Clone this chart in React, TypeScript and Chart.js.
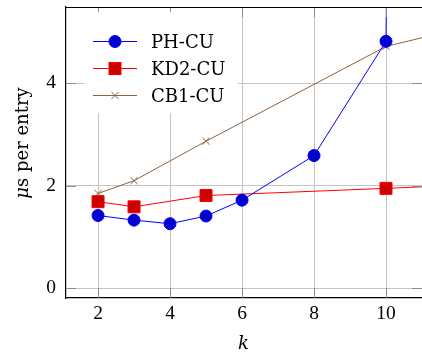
import { useEffect, useRef } from "react";
import { Chart, registerables } from "chart.js";

Chart.register(...registerables);

// ---- data ----
const phK = [2, 3, 4, 5, 6, 8, 10, 12];
const phValues = [1.42, 1.33, 1.26, 1.41, 1.72, 2.59, 4.82, 150];
const kd2K = [2, 3, 5, 10, 12];
const kd2Values = [1.69, 1.59, 1.81, 1.95, 2.01];
const cb1K = [2, 3, 5, 10, 12];
const cb1Values = [1.85, 2.1, 2.87, 4.72, 5.06];
const xTicks = [2, 4, 6, 8, 10];
const yTicks = [0, 2, 4];
const seriesNames = ["PH-CU", "KD2-CU", "CB1-CU"];
const xLabel = "k";
const yLabelMath = "μ";
const yLabelText = "s per entry";

const TICK_FONT = "Liberation Serif";
const TEXT_FONT = "DejaVu Serif";

const colors = {
  ph: { line: "#0000ff", fill: "#0000cc" },
  kd2: { line: "#ff0000", fill: "#cc0000" },
  cb1: { line: "#8a6240", fill: "#8a6240" },
};

function toPoints(xs: number[], ys: number[]) {
  return xs.map((x, i) => ({ x, y: ys[i] }));
}

function drawMarker(ctx: CanvasRenderingContext2D, kind: string, x: number, y: number) {
  ctx.save();
  if (kind === "circle") {
    ctx.fillStyle = colors.ph.fill;
    ctx.strokeStyle = colors.ph.line;
    ctx.lineWidth = 1;
    ctx.beginPath();
    ctx.arc(x, y, 6, 0, Math.PI * 2);
    ctx.fill();
    ctx.stroke();
  } else if (kind === "rect") {
    ctx.fillStyle = colors.kd2.fill;
    ctx.strokeStyle = colors.kd2.line;
    ctx.lineWidth = 1;
    ctx.fillRect(x - 6, y - 6, 12, 12);
    ctx.strokeRect(x - 6, y - 6, 12, 12);
  } else {
    ctx.strokeStyle = colors.cb1.line;
    ctx.lineWidth = 1;
    const s = 3.6;
    ctx.beginPath();
    ctx.moveTo(x - s, y - s);
    ctx.lineTo(x + s, y + s);
    ctx.moveTo(x + s, y - s);
    ctx.lineTo(x - s, y + s);
    ctx.stroke();
  }
  ctx.restore();
}

const pgfPlugin = {
  id: "pgfDecor",
  afterDatasetsDraw(chart: any) {
    const ctx: CanvasRenderingContext2D = chart.ctx;
    const area = chart.chartArea;
    const xs = chart.scales.x;
    const ys = chart.scales.y;
    const line = (x1: number, y1: number, x2: number, y2: number) => {
      ctx.beginPath();
      ctx.moveTo(x1, y1);
      ctx.lineTo(x2, y2);
      ctx.stroke();
    };
    ctx.save();
    // inward tick marks
    ctx.strokeStyle = "#8c8c8c";
    ctx.lineWidth = 1;
    const L = 10;
    xTicks.forEach((v) => {
      const px = Math.round(xs.getPixelForValue(v)) + 0.5;
      line(px, area.bottom, px, area.bottom - L);
      line(px, area.top, px, area.top + L);
    });
    yTicks.forEach((v) => {
      const py = Math.round(ys.getPixelForValue(v)) + 0.5;
      line(area.left, py, area.left + L, py);
      line(area.right, py, area.right - L, py);
    });
    // top frame
    ctx.strokeStyle = "#000";
    ctx.lineWidth = 1.2;
    line(area.left, area.top + 0.5, area.right, area.top + 0.5);

    // legend
    const bx = area.left + 18;
    const by = area.top + 5;
    ctx.fillStyle = "#fff";
    ctx.fillRect(bx, by, 154, 101);
    const kinds = ["circle", "rect", "cross"];
    const lineColors = [colors.ph.line, colors.kd2.line, colors.cb1.line];
    const rowY = [area.top + 34, area.top + 61, area.top + 88];
    ctx.font = `18px "${TEXT_FONT}"`;
    ctx.textAlign = "left";
    ctx.textBaseline = "alphabetic";
    seriesNames.forEach((name, i) => {
      const y = rowY[i];
      ctx.strokeStyle = lineColors[i];
      ctx.lineWidth = 1;
      line(area.left + 27, y + 0.5, area.left + 71, y + 0.5);
      drawMarker(ctx, kinds[i], area.left + 49, y + 0.5);
      ctx.fillStyle = "#000";
      ctx.fillText(name, area.left + 85, y + 6.5);
    });
    ctx.restore();
  },
  afterDraw(chart: any) {
    const ctx: CanvasRenderingContext2D = chart.ctx;
    ctx.save();
    ctx.fillStyle = "#000";
    // x label
    ctx.font = `italic 18px "${TEXT_FONT}"`;
    ctx.textAlign = "center";
    ctx.textBaseline = "alphabetic";
    ctx.fillText(xLabel, 243.5, 349);
    // y label
    ctx.translate(0, 143);
    ctx.rotate(-Math.PI / 2);
    const fIt = `italic 18px "${TEXT_FONT}"`;
    const fUp = `18px "${TEXT_FONT}"`;
    ctx.font = fIt;
    const w1 = ctx.measureText(yLabelMath).width;
    ctx.font = fUp;
    const w2 = ctx.measureText(yLabelText).width;
    const start = -(w1 + w2) / 2;
    ctx.textAlign = "left";
    ctx.font = fIt;
    ctx.fillText(yLabelMath, start, 28);
    ctx.font = fUp;
    ctx.fillText(yLabelText, start + w1, 28);
    ctx.restore();
  },
};

const zeroPad = (s: any) => {
  s.paddingTop = 0;
  s.paddingBottom = 0;
  s.paddingLeft = 0;
  s.paddingRight = 0;
};

export default function App() {
  const ref = useRef<HTMLCanvasElement | null>(null);
  useEffect(() => {
    if (!ref.current) return;
    const chart = new Chart(ref.current, {
      type: "line",
      data: {
        datasets: [
          {
            label: seriesNames[0],
            data: toPoints(phK, phValues),
            borderColor: colors.ph.line,
            backgroundColor: colors.ph.fill,
            borderWidth: 1,
            pointStyle: "circle",
            pointRadius: 6,
            pointBorderColor: colors.ph.line,
            pointBackgroundColor: colors.ph.fill,
            pointBorderWidth: 1,
            tension: 0,
          },
          {
            label: seriesNames[1],
            data: toPoints(kd2K, kd2Values),
            borderColor: colors.kd2.line,
            backgroundColor: colors.kd2.fill,
            borderWidth: 1,
            pointStyle: "rect",
            pointRadius: 8.5,
            pointBorderColor: colors.kd2.line,
            pointBackgroundColor: colors.kd2.fill,
            pointBorderWidth: 1,
            tension: 0,
          },
          {
            label: seriesNames[2],
            data: toPoints(cb1K, cb1Values),
            borderColor: colors.cb1.line,
            backgroundColor: colors.cb1.fill,
            borderWidth: 1,
            pointStyle: "crossRot",
            pointRadius: 5,
            pointBorderColor: colors.cb1.line,
            pointBorderWidth: 1,
            tension: 0,
          },
        ],
      },
      options: {
        animation: false,
        responsive: false,
        events: [],
        layout: { autoPadding: false, padding: { top: 7, left: 0, right: 0, bottom: 0 } },
        plugins: {
          legend: { display: false },
          tooltip: { enabled: false },
          title: { display: false },
        },
        scales: {
          x: {
            type: "linear",
            min: 1.11,
            max: 11,
            afterBuildTicks: (s: any) => {
              s.ticks = xTicks.map((v) => ({ value: v }));
            },
            afterFit: (s: any) => {
              s.height = 54;
              zeroPad(s);
            },
            grid: { color: "#c4c4c4", lineWidth: 1, drawTicks: false },
            border: { display: true, color: "#000", width: 1.2 },
            ticks: {
              color: "#000",
              padding: 4,
              maxRotation: 0,
              font: { family: TICK_FONT, size: 19.5 },
            },
          },
          y: {
            type: "linear",
            min: -0.19,
            max: 5.49,
            afterBuildTicks: (s: any) => {
              s.ticks = yTicks.map((v) => ({ value: v }));
            },
            afterFit: (s: any) => {
              s.width = 66;
              zeroPad(s);
            },
            grid: { color: "#c4c4c4", lineWidth: 1, drawTicks: false },
            border: { display: true, color: "#000", width: 1.2 },
            ticks: {
              color: "#000",
              padding: 10,
              font: { family: TICK_FONT, size: 19.5 },
            },
          },
        },
      },
      plugins: [pgfPlugin],
    } as any);
    return () => chart.destroy();
  }, []);
  return (
    <div style={{ position: "fixed", left: 0, top: 0, width: 422, height: 352, background: "#fff" }}>
      <canvas ref={ref} width={422} height={352} style={{ display: "block", width: 422, height: 352 }} />
    </div>
  );
}
